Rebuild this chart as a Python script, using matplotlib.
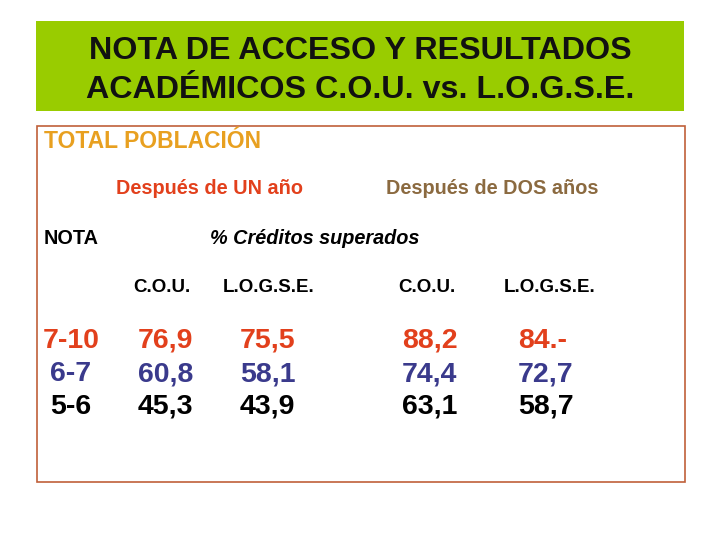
import matplotlib.pyplot as plt
from matplotlib.patches import Rectangle

plt.rcParams['font.family'] = ['Liberation Sans', 'DejaVu Sans']
plt.rcParams['font.weight'] = 'bold'

titulo = ["NOTA DE ACCESO Y RESULTADOS", "ACADÉMICOS C.O.U. vs. L.O.G.S.E."]
poblacion = "TOTAL POBLACIÓN"
periodos = ["Después de UN año", "Después de DOS años"]
columnas = ["C.O.U.", "L.O.G.S.E.", "C.O.U.", "L.O.G.S.E."]
notas = ["7-10", "6-7", "5-6"]
valores = [
    ["76,9", "75,5", "88,2", "84.-"],
    ["60,8", "58,1", "74,4", "72,7"],
    ["45,3", "43,9", "63,1", "58,7"],
]
colores_fila = ["#e2401c", "#3a3a8c", "#000000"]

fig = plt.figure(figsize=(7.2, 5.4), dpi=100)
ax = fig.add_axes([0, 0, 1, 1])
ax.set_xlim(0, 720)
ax.set_ylim(540, 0)
ax.axis('off')

# cabecera verde
ax.add_patch(Rectangle((36, 21), 648, 90, facecolor="#99cc00", edgecolor="none"))
ax.text(360, 59, titulo[0], ha='center', va='baseline', fontsize=23.2, color='#111111')
ax.text(360, 98, titulo[1], ha='center', va='baseline', fontsize=23.2, color='#111111')

# recuadro
ax.add_patch(Rectangle((36.5, 126), 648, 356, facecolor="none", edgecolor="#c0603a", linewidth=1.2))
ax.text(44, 148, poblacion, ha='left', va='baseline', fontsize=16.5, color="#e8a020")

ax.text(209, 189, periodos[0], ha='center', va='center', fontsize=14.3, color="#e2401c")
ax.text(492, 189, periodos[1], ha='center', va='center', fontsize=14.3, color="#8b6a40")

ax.text(44, 238, "NOTA", ha='left', va='center', fontsize=14.3, color='black')
ax.text(315, 238, "% Créditos superados", ha='center', va='center', fontsize=14.3,
        fontstyle='italic', color='black')

col_x = [162, 269, 427, 550]
for x, c in zip(col_x, columnas):
    ax.text(x, 288, c, ha='center', va='center', fontsize=13.5, color='black')

val_x = [138, 240, 402, 518]
fila_y = [348, 381, 414]
for i, (nota, fila) in enumerate(zip(notas, valores)):
    y = fila_y[i]
    ax.text(71, y, nota, ha='center', va='baseline', fontsize=20.5, color=colores_fila[i])
    for x, v in zip(val_x, fila):
        ax.text(x, y, v, ha='left', va='baseline', fontsize=20.5, color=colores_fila[i])

fig.savefig("out.png", dpi=100)
